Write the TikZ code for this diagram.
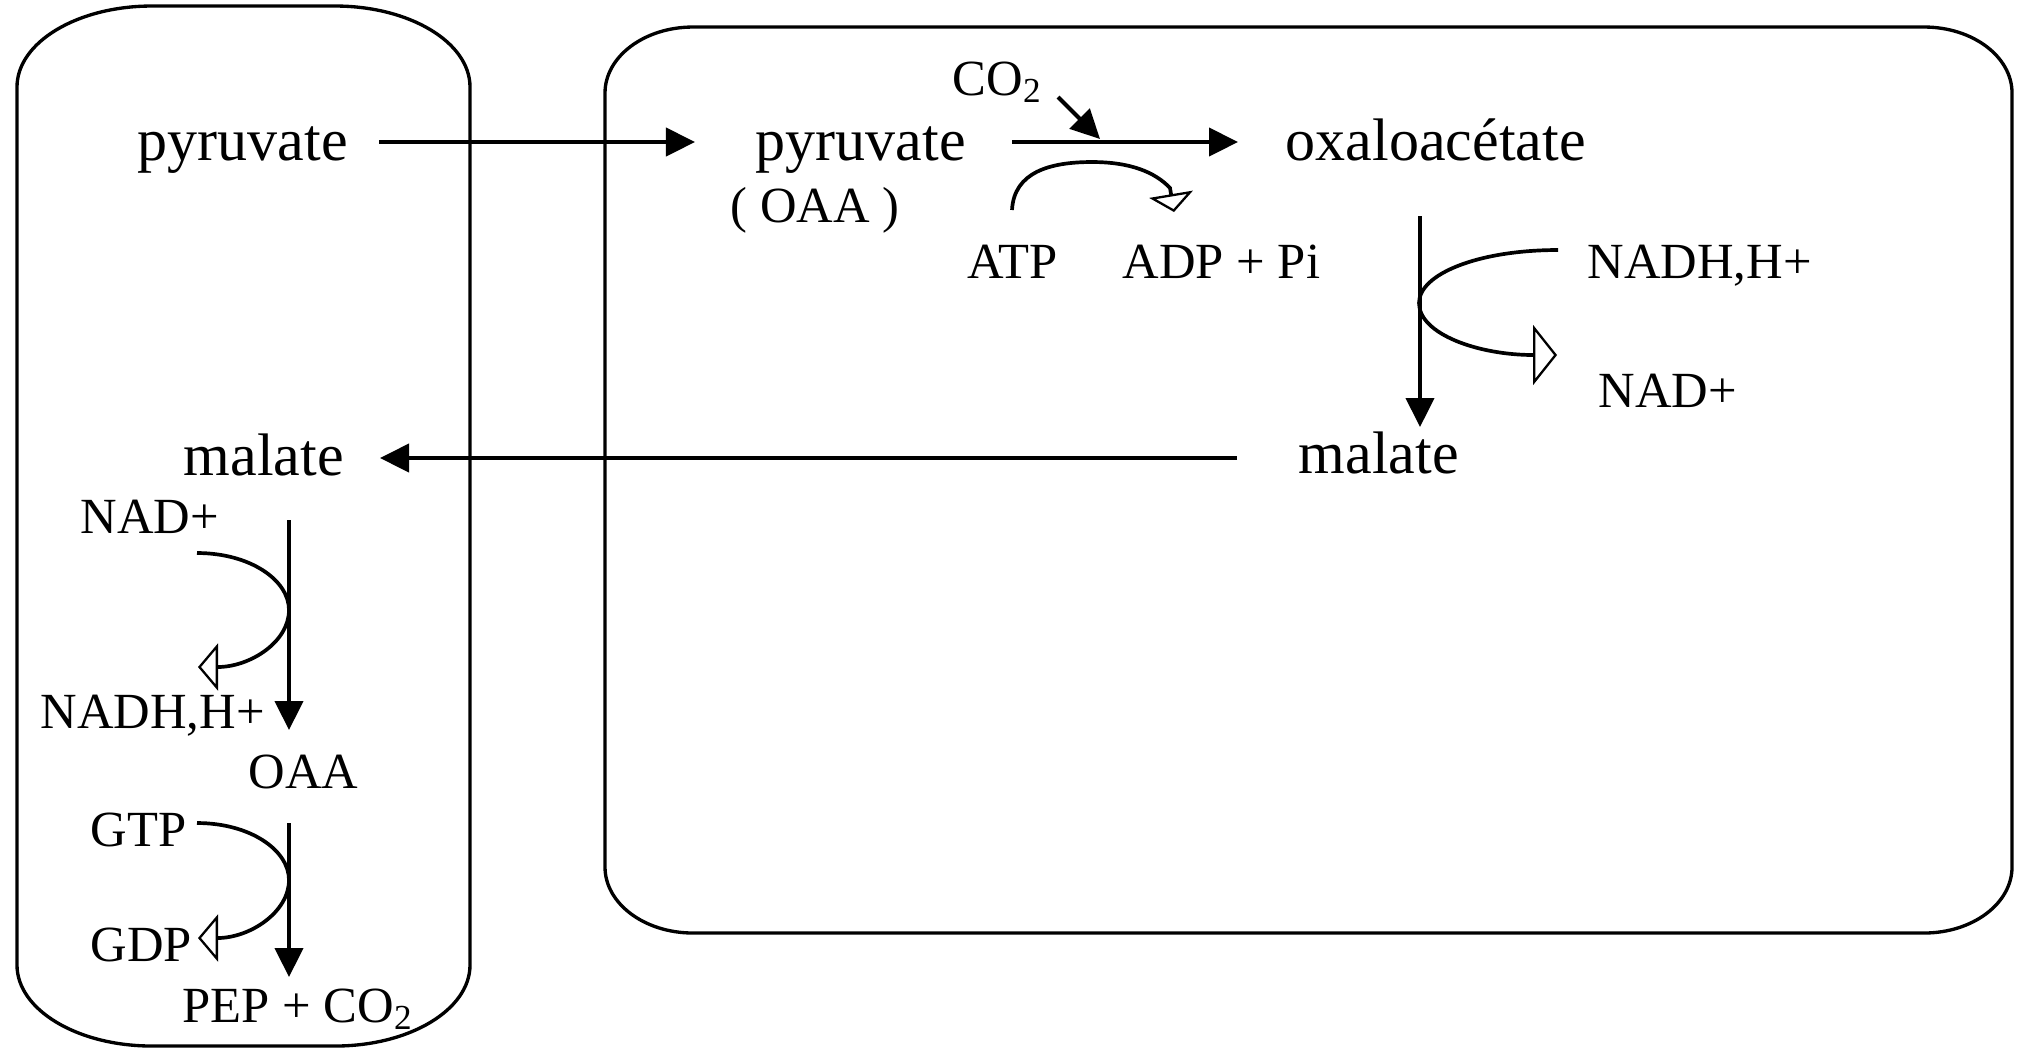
\documentclass[tikz,border=0pt]{standalone}
\usepackage{fontspec}
\setmainfont{Liberation Serif}
\usetikzlibrary{arrows.meta}
\begin{document}
\begin{tikzpicture}[x=0.01cm,y=-0.01cm,
  big/.style={font=\fontsize{17.07}{20}\selectfont, anchor=base west, inner sep=0pt},
  small/.style={font=\fontsize{14.4}{17}\selectfont, anchor=base west, inner sep=0pt},
  box/.style={line width=0.95pt},
  flow/.style={line width=1.2pt, -{Triangle[length=0.29cm,width=0.28cm]}},
  sideL/.style={line width=1.05pt, -{Triangle[open,length=0.2cm,width=0.47cm,line width=0.65pt]}},
  sideR/.style={line width=1.05pt, -{Triangle[open,length=0.24cm,width=0.6cm,line width=0.65pt]}},
  sideT/.style={line width=1.05pt, -{Triangle[open,length=0.18cm,width=0.44cm,line width=0.65pt]}},
]
\useasboundingbox (0,0) rectangle (2019,1050);

% compartments
\draw[box] (152,6) -- (335,6) arc[start angle=270,end angle=360,x radius=135,y radius=81]
  -- (470,965) arc[start angle=0,end angle=90,x radius=135,y radius=81]
  -- (152,1046) arc[start angle=90,end angle=180,x radius=135,y radius=81]
  -- (17,87) arc[start angle=180,end angle=270,x radius=135,y radius=81] -- cycle;
\draw[box] (693,27) -- (1924,27) arc[start angle=270,end angle=360,x radius=88,y radius=66]
  -- (2012,867) arc[start angle=0,end angle=90,x radius=88,y radius=66]
  -- (693,933) arc[start angle=90,end angle=180,x radius=88,y radius=66]
  -- (605,93) arc[start angle=180,end angle=270,x radius=88,y radius=66] -- cycle;

% labels
\node[big] (pyrL) at (137,160) {pyruvate};
\node[big] (pyrR) at (755,160) {pyruvate};
\node[small] (oaaR) at (730,222) {( OAA )};
\node[small] (co2) at (952,95) {CO\textsubscript{2}};
\node[big] (oxa) at (1285,160) {oxaloacétate};
\node[small] (atp) at (967,278) {ATP};
\node[small] (adp) at (1122,278) {ADP + Pi};
\node[small] (nadhR) at (1587,278) {NADH,H+};
\node[small] (nadR) at (1598,407) {NAD+};
\node[big] (malR) at (1298,473) {malate};
\node[big] (malL) at (183,475) {malate};
\node[small] (nadL) at (80,533) {NAD+};
\node[small] (nadhL) at (40,728) {NADH,H+};
\node[small] (oaaL) at (248,788) {OAA};
\node[small] (gtp) at (90,846) {GTP};
\node[small] (gdp) at (90,961) {GDP};
\node[small] (pep) at (182,1022) {PEP + CO\textsubscript{2}};

% connector end points
\coordinate (pyrLout) at (379,142);
\coordinate (pyrRin) at (695,142);
\coordinate (pyrRout) at (1012,142);
\coordinate (oxaIn) at (1238,142);
\coordinate (co2out) at (1058,97);
\coordinate (co2in) at (1100,139);
\coordinate (oxaOut) at (1420,216);
\coordinate (malRin) at (1420,427);
\coordinate (malRout) at (1237,458);
\coordinate (malLin) at (380,458);
\coordinate (malLout) at (289,520);
\coordinate (oaaLin) at (289,730);
\coordinate (oaaLout) at (289,823);
\coordinate (pepIn) at (289,977);
\coordinate (atpOut) at (1012,210);
\coordinate (adpIn) at (1174,212);
\coordinate (nadhRout) at (1558,250);
\coordinate (nadRin) at (1557,355);
\coordinate (nadLout) at (197,553);
\coordinate (nadhLin) at (198,667);
\coordinate (gtpOut) at (197,823);
\coordinate (gdpIn) at (198,938);

% main arrows
\draw[flow] (pyrLout) -- (pyrRin);
\draw[flow] (pyrRout) -- (oxaIn);
\draw[flow] (co2out) -- (co2in);
\draw[flow] (oxaOut) -- (malRin);
\draw[flow] (malRout) -- (malLin);
\draw[flow] (malLout) -- (oaaLin);
\draw[flow] (oaaLout) -- (pepIn);

% cofactor curves
\draw[sideT] (atpOut) .. controls (1014,172) and (1050,162) .. (1092,162)
  .. controls (1130,162) and (1155,172) .. (1170,188) -- (adpIn);
\draw[sideR] (nadhRout) .. controls (1478,250) and (1419,274) .. (1419,303)
  .. controls (1419,334) and (1478,355) .. (nadRin);
\draw[sideL] (nadLout) .. controls (250,553) and (289,580) .. (289,610)
  .. controls (289,642) and (250,667) .. (nadhLin);
\draw[sideL] (gtpOut) .. controls (250,823) and (289,850) .. (289,880)
  .. controls (289,912) and (250,938) .. (gdpIn);
\end{tikzpicture}
\end{document}
